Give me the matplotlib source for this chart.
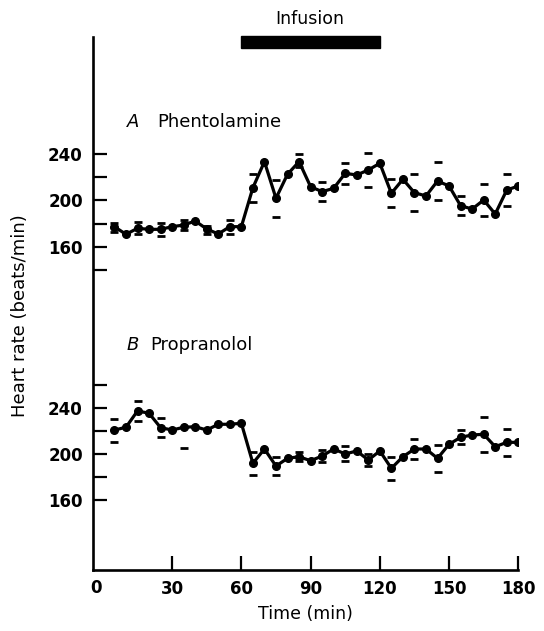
import numpy as np
import matplotlib
matplotlib.use("Agg")
import matplotlib.pyplot as plt
from matplotlib.patches import Rectangle
from matplotlib.transforms import blended_transform_factory

# ---------------- data ----------------
time_min = [5 * (i + 1) for i in range(36)]  # 5 ... 180 min

phentolamine = [177.3, 170.7, 175.9, 175.0, 175.0, 177.3, 178.7, 182.2, 175.3, 171.0,
                177.3, 177.3, 210.9, 233.4, 201.8, 222.5, 233.4, 211.8, 207.5, 210.4,
                223.3, 221.9, 226.2, 232.0, 206.1, 218.2, 206.6, 203.8, 216.7, 212.4,
                195.4, 192.5, 200.3, 188.2, 208.9, 212.4]
phentolamine_se_hi = [3, np.nan, 5, np.nan, 5.7, np.nan, 4, np.nan, 2.5, np.nan,
                      6, np.nan, 12, np.nan, 16, np.nan, 6.3, np.nan, 8, np.nan,
                      9, np.nan, 15, np.nan, 12, np.nan, 16, np.nan, 16, np.nan,
                      8, np.nan, 14, np.nan, 14, np.nan]
phentolamine_se_lo = [5, np.nan, 5, np.nan, 5.7, np.nan, 4, np.nan, 4.5, np.nan,
                      6, np.nan, 12, np.nan, 16, np.nan, 5, np.nan, 8, np.nan,
                      9, np.nan, 15, np.nan, 12, np.nan, 16, np.nan, 16, np.nan,
                      8, np.nan, 14, np.nan, 14, np.nan]

propranolol = [221.1, 223.5, 237.7, 235.7, 223.2, 221.1, 223.5, 224.0, 221.1, 226.1,
               226.1, 227.0, 192.2, 204.6, 189.8, 196.5, 197.9, 194.4, 198.5, 204.6,
               200.3, 202.9, 195.0, 202.9, 187.8, 197.9, 204.6, 204.6, 196.5, 208.7,
               214.8, 216.8, 217.4, 206.6, 210.4, 210.4]
propranolol_se_hi = [10, np.nan, 9, np.nan, 8, np.nan, np.nan, np.nan, np.nan, np.nan,
                     np.nan, np.nan, 10, np.nan, 8, np.nan, 4, np.nan, 5, np.nan,
                     6.5, np.nan, 5, np.nan, 10, np.nan, 9, np.nan, 12, np.nan,
                     6, np.nan, 15, np.nan, 12, np.nan]
propranolol_se_lo = [10, np.nan, 9, np.nan, 8, np.nan, 18, np.nan, np.nan, np.nan,
                     np.nan, np.nan, 10, np.nan, 8, np.nan, 4, np.nan, 5, np.nan,
                     6.5, np.nan, 5, np.nan, 10, np.nan, 9, np.nan, 12, np.nan,
                     6, np.nan, 15, np.nan, 12, np.nan]

infusion_start, infusion_end = 60, 120
x_ticks = [30, 60, 90, 120, 150, 180]
a_ticks = [140, 160, 180, 200, 220, 240]
b_ticks = [160, 180, 200, 220, 240, 260]
y_labelled = [160, 200, 240]

# ---------------- figure ----------------
W, H = 544, 631
fig = plt.figure(figsize=(W / 100, H / 100), dpi=100)
label_font = "DejaVu Sans"
tick_kw = dict(fontsize=12, family="DejaVu Sans", fontweight="bold")

def fx(px):
    return px / W

def fy(py):
    return 1 - py / H

left_px, right_px = 92.5, 518.3
x_lo, x_hi = -4.5, 180

# main axes (x axis + continuous left spine)
ax = fig.add_axes([fx(left_px), fy(570), fx(right_px - left_px), (570 - 37) / H])
ax.set_xlim(x_lo, x_hi)
ax.set_ylim(0, 1)
ax.set_yticks([])
for s in ["top", "right"]:
    ax.spines[s].set_visible(False)
for s in ["left", "bottom"]:
    ax.spines[s].set_linewidth(1.9)
ax.set_xticks(x_ticks)
ax.set_xticklabels([str(t) for t in x_ticks], **tick_kw)
ax.tick_params(axis="x", direction="in", length=10, width=1.6, pad=7)
ax.text(0.008, -0.0165, "0", transform=ax.transAxes, ha="center", va="top", **tick_kw)
ax.set_xlabel("Time (min)", fontsize=12.5, family=label_font, labelpad=5)

# infusion bar
tr = blended_transform_factory(ax.transData, ax.transAxes)
ax.add_patch(Rectangle((infusion_start, 0.980), infusion_end - infusion_start, 0.021,
                       transform=tr, color="black", clip_on=False))
fig.text(fx(310), fy(19), "Infusion", ha="center", va="center",
         fontsize=12.5, family=label_font)

fig.text(fx(20), fy(316), "Heart rate (beats/min)", rotation=90, ha="center",
         va="center", fontsize=13, family=label_font)

def panel(rect, ylim, ticks, y, hi, lo):
    a = fig.add_axes(rect, sharex=ax)
    a.patch.set_alpha(0)
    for s in ["top", "right", "bottom", "left"]:
        a.spines[s].set_visible(False)
    a.set_ylim(*ylim)
    a.set_yticks(ticks)
    a.set_yticklabels([str(t) if t in y_labelled else "" for t in ticks], **tick_kw)
    a.tick_params(axis="y", direction="in", length=10, width=1.6, pad=7)
    a.tick_params(axis="x", which="both", bottom=False, labelbottom=False)
    t = np.array(time_min, dtype=float)
    yv = np.array(y)
    a.plot(t, yv, "-o", color="black", lw=2.3, ms=5.5, zorder=3)
    a.plot(t, yv + np.array(hi), "_", color="black", ms=6, mew=2, zorder=2)
    a.plot(t, yv - np.array(lo), "_", color="black", ms=6, mew=2, zorder=2)
    return a

# Panel A: 240 at 154 px, 1.159 px per beat
a_lim = (135, 250)
a_top = 154 - (a_lim[1] - 240) * 1.159
a_bot = 154 + (240 - a_lim[0]) * 1.159
axA = panel([fx(left_px), fy(a_bot), fx(right_px - left_px), (a_bot - a_top) / H],
            a_lim, a_ticks, phentolamine, phentolamine_se_hi, phentolamine_se_lo)

# Panel B: 240 at 408.3 px, 1.15 px per beat
b_lim = (150, 270)
b_top = 408.3 - (b_lim[1] - 240) * 1.15
b_bot = 408.3 + (240 - b_lim[0]) * 1.15
axB = panel([fx(left_px), fy(b_bot), fx(right_px - left_px), (b_bot - b_top) / H],
            b_lim, b_ticks, propranolol, propranolol_se_hi, propranolol_se_lo)

fig.text(fx(127), fy(122), "A", ha="left", va="center", fontsize=13,
         style="italic", family=label_font)
fig.text(fx(157), fy(122), "Phentolamine", ha="left", va="center", fontsize=13,
         family=label_font)
fig.text(fx(127), fy(345), "B", ha="left", va="center", fontsize=13,
         style="italic", family=label_font)
fig.text(fx(150), fy(345), "Propranolol", ha="left", va="center", fontsize=13,
         family=label_font)

fig.savefig("out.png", dpi=100)
